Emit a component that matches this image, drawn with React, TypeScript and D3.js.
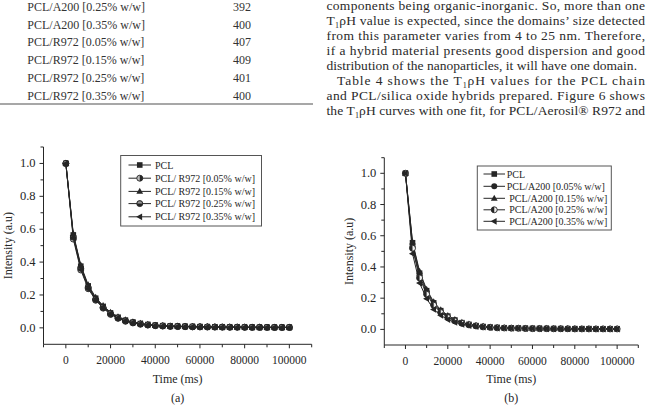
import React from 'react';
import * as d3 from 'd3';

// Scanned page fragment: table tail, body text, and Figure 6 (a)/(b) T1ρH decay curves.

const tableLabels = [
  'PCL/A200 [0.25% w/w]',
  'PCL/A200 [0.35% w/w]',
  'PCL/R972 [0.05% w/w]',
  'PCL/R972 [0.15% w/w]',
  'PCL/R972 [0.25% w/w]',
  'PCL/R972 [0.35% w/w]',
];
const tableValues = ['392', '400', '407', '409', '401', '400'];

const timesMs = [
  0, 3333, 6667, 10000, 13333, 16667, 20000, 23333, 26667, 30000, 33333, 36667, 40000, 43333,
  46667, 50000, 53333, 56667, 60000, 63333, 66667, 70000, 73333, 76667, 80000, 83333, 86667,
  90000, 93333, 96667, 100000,
];

const xTicks = [0, 20000, 40000, 60000, 80000, 100000];
const xMinorTicks = [-10000, 10000, 30000, 50000, 70000, 90000, 110000];
const yTicks = [0, 0.2, 0.4, 0.6, 0.8, 1.0];
const yMinorTicks = [0.1, 0.3, 0.5, 0.7, 0.9, 1.1];

const r972Labels = [
  'PCL',
  'PCL/ R972 [0.05% w/w]',
  'PCL/ R972 [0.15% w/w]',
  'PCL/ R972 [0.25% w/w]',
  'PCL/ R972 [0.35% w/w]',
];
const a200Labels = [
  'PCL',
  'PCL/A200 [0.05% w/w]',
  'PCL/A200 [0.15% w/w]',
  'PCL/A200 [0.25% w/w]',
  'PCL/A200 [0.35% w/w]',
];

const r972Pcl = [1.0, 0.565, 0.375, 0.255, 0.18, 0.13, 0.09, 0.064, 0.046, 0.034, 0.026, 0.02, 0.016, 0.013, 0.011, 0.01, 0.009, 0.008, 0.007, 0.006, 0.006, 0.005, 0.005, 0.004, 0.004, 0.004, 0.003, 0.003, 0.003, 0.003, 0.003];
const r972_005 = [1.0, 0.54, 0.352, 0.238, 0.168, 0.12, 0.082, 0.058, 0.04, 0.03, 0.022, 0.017, 0.013, 0.011, 0.009, 0.008, 0.007, 0.006, 0.006, 0.005, 0.005, 0.004, 0.004, 0.004, 0.003, 0.003, 0.003, 0.003, 0.002, 0.002, 0.002];
const r972_015 = [1.0, 0.572, 0.382, 0.262, 0.186, 0.135, 0.095, 0.067, 0.048, 0.036, 0.027, 0.021, 0.016, 0.013, 0.011, 0.01, 0.009, 0.008, 0.007, 0.007, 0.006, 0.005, 0.005, 0.005, 0.004, 0.004, 0.004, 0.003, 0.003, 0.003, 0.003];
const r972_025 = [1.0, 0.552, 0.362, 0.245, 0.172, 0.124, 0.086, 0.06, 0.043, 0.032, 0.024, 0.018, 0.014, 0.012, 0.01, 0.009, 0.008, 0.007, 0.006, 0.006, 0.005, 0.005, 0.004, 0.004, 0.004, 0.003, 0.003, 0.003, 0.003, 0.003, 0.003];
const r972_035 = [1.0, 0.56, 0.37, 0.25, 0.176, 0.127, 0.088, 0.062, 0.044, 0.033, 0.025, 0.019, 0.015, 0.012, 0.01, 0.009, 0.008, 0.007, 0.006, 0.006, 0.005, 0.005, 0.004, 0.004, 0.004, 0.003, 0.003, 0.003, 0.003, 0.003, 0.003];

const a200Pcl = [1.0, 0.555, 0.36, 0.248, 0.17, 0.12, 0.085, 0.06, 0.043, 0.032, 0.024, 0.018, 0.014, 0.012, 0.01, 0.009, 0.008, 0.007, 0.006, 0.006, 0.005, 0.005, 0.005, 0.004, 0.004, 0.004, 0.004, 0.003, 0.003, 0.003, 0.003];
const a200_005 = [1.0, 0.53, 0.345, 0.236, 0.162, 0.114, 0.08, 0.057, 0.041, 0.03, 0.023, 0.017, 0.013, 0.011, 0.009, 0.008, 0.007, 0.006, 0.006, 0.005, 0.005, 0.004, 0.004, 0.004, 0.004, 0.003, 0.003, 0.003, 0.003, 0.003, 0.003];
const a200_015 = [1.0, 0.56, 0.372, 0.256, 0.176, 0.126, 0.089, 0.063, 0.045, 0.034, 0.025, 0.019, 0.015, 0.012, 0.01, 0.009, 0.008, 0.007, 0.007, 0.006, 0.006, 0.005, 0.005, 0.005, 0.004, 0.004, 0.004, 0.004, 0.003, 0.003, 0.003];
const a200_025 = [1.0, 0.52, 0.33, 0.225, 0.155, 0.108, 0.076, 0.054, 0.039, 0.029, 0.022, 0.016, 0.013, 0.01, 0.009, 0.008, 0.007, 0.006, 0.005, 0.005, 0.005, 0.004, 0.004, 0.004, 0.003, 0.003, 0.003, 0.003, 0.003, 0.003, 0.003];
const a200_035 = [1.0, 0.485, 0.297, 0.197, 0.128, 0.09, 0.063, 0.045, 0.032, 0.024, 0.018, 0.014, 0.011, 0.009, 0.008, 0.007, 0.006, 0.005, 0.005, 0.004, 0.004, 0.004, 0.003, 0.003, 0.003, 0.003, 0.003, 0.002, 0.002, 0.002, 0.002];

const INK = '#262626';
const SERIF = 'Liberation Serif, Times New Roman, Times, serif';

type Kind = 'square' | 'halfRight' | 'triUp' | 'halfTop' | 'triLeft' | 'disc' | 'halfLeft';

function Marker({ kind, x, y }: { kind: Kind; x: number; y: number }) {
  const r = 3;
  switch (kind) {
    case 'square':
      return <rect x={x - 2.8} y={y - 2.8} width={5.6} height={5.6} fill={INK} />;
    case 'disc':
      return <circle cx={x} cy={y} r={r} fill={INK} />;
    case 'triUp':
      return <path d={`M${x},${y - 3.6}L${x + 3.4},${y + 2.4}L${x - 3.4},${y + 2.4}Z`} fill={INK} />;
    case 'triLeft':
      return <path d={`M${x - 3.6},${y}L${x + 2.4},${y - 3.4}L${x + 2.4},${y + 3.4}Z`} fill={INK} />;
    case 'halfRight':
      return (
        <g>
          <circle cx={x} cy={y} r={r} fill="#bbb" stroke={INK} strokeWidth={0.9} />
          <path d={`M${x},${y - r}A${r},${r} 0 0 1 ${x},${y + r}Z`} fill={INK} />
        </g>
      );
    case 'halfLeft':
      return (
        <g>
          <circle cx={x} cy={y} r={r} fill="#eee" stroke={INK} strokeWidth={0.9} />
          <path d={`M${x},${y - r}A${r},${r} 0 0 0 ${x},${y + r}Z`} fill={INK} />
        </g>
      );
    case 'halfTop':
      return (
        <g>
          <circle cx={x} cy={y} r={r} fill={INK} stroke={INK} strokeWidth={0.9} />
          <path d={`M${x - r + 0.6},${y}A${r - 0.6},${r - 0.6} 0 0 1 ${x + r - 0.6},${y}Z`} fill="#999" />
        </g>
      );
  }
  return null;
}

type Panel = {
  series: number[][];
  labels: string[];
  kinds: Kind[];
  x0: number;
  x1: number;
  yTop: number;
  yBot: number;
  yLabelX: number;
  legend: { x: number; y: number; w: number; h: number; rows: number[]; lineX0: number; lineX1: number; textX: number[] };
  caption: string;
};

function DecayPanel({ p }: { p: Panel }) {
  const x = d3.scaleLinear().domain([-10000, 110000]).range([p.x0, p.x1]);
  const y = d3.scaleLinear().domain([-0.1, 1.1]).range([p.yBot, p.yTop]);
  const line = d3
    .line<number>()
    .x((_, i) => x(timesMs[i]))
    .y((v) => y(v));
  const midX = (p.x0 + p.x1) / 2;
  const midY = (p.yTop + p.yBot) / 2;
  const L = p.legend;
  return (
    <g style={{ fontFamily: SERIF }} fill={INK}>
      {p.series.map((s, si) => (
        <path key={`l${si}`} d={line(s) ?? ''} fill="none" stroke={INK} strokeWidth={1} />
      ))}
      {p.series.map((s, si) => (
        <g key={`m${si}`}>
          {s.map((v, i) => (
            <Marker key={i} kind={p.kinds[si]} x={x(timesMs[i])} y={y(v)} />
          ))}
        </g>
      ))}
      {/* axes */}
      <line x1={p.x0} x2={p.x1} y1={p.yBot} y2={p.yBot} stroke={INK} strokeWidth={1} />
      <line x1={p.x0} x2={p.x0} y1={p.yTop} y2={p.yBot} stroke={INK} strokeWidth={1} />
      {xTicks.map((t) => (
        <g key={`xt${t}`}>
          <line x1={x(t)} x2={x(t)} y1={p.yBot} y2={p.yBot + 4} stroke={INK} />
          <text x={x(t)} y={p.yBot + 20} textAnchor="middle" fontSize={11.5}>
            {t}
          </text>
        </g>
      ))}
      {xMinorTicks.map((t) => (
        <line key={`xm${t}`} x1={x(t)} x2={x(t)} y1={p.yBot} y2={p.yBot + 3} stroke={INK} />
      ))}
      {yTicks.map((t) => (
        <g key={`yt${t}`}>
          <line x1={p.x0 - 4} x2={p.x0} y1={y(t)} y2={y(t)} stroke={INK} />
          <text x={p.x0 - 8} y={y(t) + 4} textAnchor="end" fontSize={12.5}>
            {d3.format('.1f')(t)}
          </text>
        </g>
      ))}
      {yMinorTicks.map((t) => (
        <line key={`ym${t}`} x1={p.x0 - 3} x2={p.x0} y1={y(t)} y2={y(t)} stroke={INK} />
      ))}
      <text
        transform={`translate(${p.yLabelX},${midY}) rotate(-90)`}
        textAnchor="middle"
        fontSize={12}
      >
        Intensity (a.u)
      </text>
      <text x={midX} y={383} textAnchor="middle" fontSize={12}>
        Time (ms)
      </text>
      <text x={midX} y={402} textAnchor="middle" fontSize={12}>
        {p.caption}
      </text>
      {/* legend */}
      <rect x={L.x} y={L.y} width={L.w} height={L.h} fill="white" stroke="#555" strokeWidth={1} />
      {p.labels.map((lab, i) => (
        <g key={lab}>
          <line x1={L.lineX0} x2={L.lineX1} y1={L.rows[i]} y2={L.rows[i]} stroke={INK} />
          <Marker kind={p.kinds[i]} x={(L.lineX0 + L.lineX1) / 2} y={L.rows[i]} />
          <text x={L.textX[i]} y={L.rows[i] + 3.5} fontSize={10}>
            {lab}
          </text>
        </g>
      ))}
    </g>
  );
}

const panelA: Panel = {
  series: [r972Pcl, r972_005, r972_015, r972_025, r972_035],
  labels: r972Labels,
  kinds: ['square', 'halfRight', 'triUp', 'halfTop', 'triLeft'],
  x0: 43.5,
  x1: 311.7,
  yTop: 147,
  yBot: 344.3,
  yLabelX: 12,
  legend: {
    x: 120.7, y: 155.5, w: 140.8, h: 70.5,
    rows: [165, 178.2, 191.4, 203.6, 216.8],
    lineX0: 128.5, lineX1: 151, textX: [155, 155, 155, 155, 155],
  },
  caption: '(a)',
};

const panelB: Panel = {
  series: [a200Pcl, a200_005, a200_015, a200_025, a200_035],
  labels: a200Labels,
  kinds: ['square', 'disc', 'triUp', 'halfLeft', 'triLeft'],
  x0: 384.3,
  x1: 638.3,
  yTop: 157.7,
  yBot: 345,
  yLabelX: 353,
  legend: {
    x: 477.3, y: 166, w: 134, h: 64,
    rows: [174, 186.3, 198.3, 209.8, 221.3],
    lineX0: 483.5, lineX1: 505, textX: [506.8, 506.8, 509.3, 509.3, 509.3],
  },
  caption: '(b)',
};

// body-text lines of the right column; a two-part line has a subscript "1" between the parts
const paraLines: { parts: string[]; x: number; end: number }[] = [
  { parts: ['components being organic-inorganic. So, more than one'], x: 326.5, end: 645 },
  { parts: ['T', 'ρH value is expected, since the domains’ size detected'], x: 326.5, end: 645 },
  { parts: ['from this parameter varies from 4 to 25 nm. Therefore,'], x: 326.5, end: 645 },
  { parts: ['if a hybrid material presents good dispersion and good'], x: 326.5, end: 645 },
  { parts: ['distribution of the nanoparticles, it will have one domain.'], x: 326.5, end: 637 },
  { parts: ['Table 4 shows the T', 'ρH values for the PCL chain'], x: 337, end: 645 },
  { parts: ['and PCL/silica oxide hybrids prepared. Figure 6 shows'], x: 326.5, end: 645 },
  { parts: ['the T', 'ρH curves with one fit, for PCL/Aerosil® R972 and'], x: 326.5, end: 645 },
];

export default function App() {
  return (
    <svg
      width={651}
      height={413}
      style={{ position: 'absolute', left: 0, top: 0, background: 'white' }}
    >
      <rect width={651} height={413} fill="white" />
      {/* table tail */}
      <g style={{ fontFamily: SERIF }} fontSize={12} fill="#333">
        {tableLabels.map((lab, i) => (
          <g key={lab}>
            <text x={27.3} y={10.7 + i * 17.8}>
              {lab}
            </text>
            <text x={242} y={10.7 + i * 17.8} textAnchor="middle">
              {tableValues[i]}
            </text>
          </g>
        ))}
        <line x1={0} x2={313} y1={104} y2={104} stroke="#8a8a8a" strokeWidth={1.6} />
      </g>
      {/* body text */}
      <g style={{ fontFamily: SERIF }} fontSize={13.5} fill="#2a2a2a">
        {paraLines.map((ln, i) => (
          <text
            key={i}
            x={ln.x}
            y={10.2 + i * 15}
            textLength={ln.end - ln.x}
            lengthAdjust="spacing"
          >
            {ln.parts.length === 1 ? (
              ln.parts[0]
            ) : (
              <>
                {ln.parts[0]}
                <tspan fontSize={8} baselineShift="-3">
                  1
                </tspan>
                {ln.parts[1]}
              </>
            )}
          </text>
        ))}
      </g>
      <DecayPanel p={panelA} />
      <DecayPanel p={panelB} />
    </svg>
  );
}
